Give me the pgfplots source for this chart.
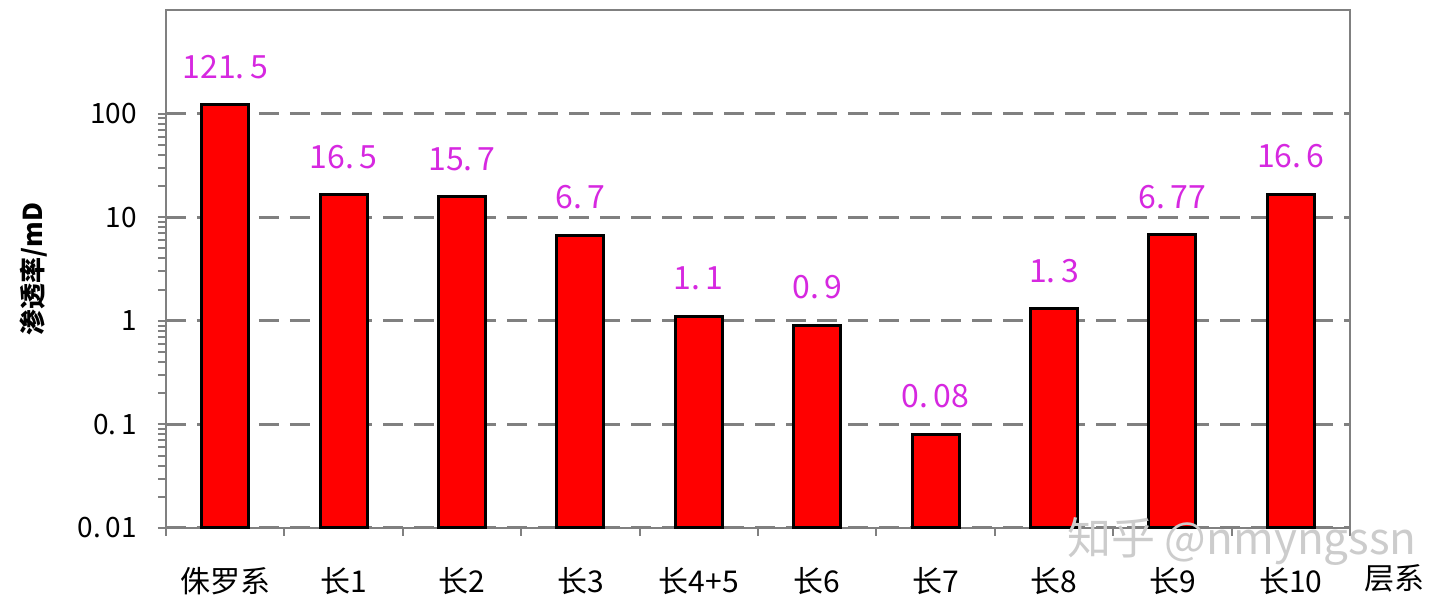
\documentclass[border=0pt]{standalone}
\usepackage{fontspec}
\setmainfont{Noto Sans CJK SC}
\usepackage{pgfplots}
\pgfplotsset{compat=1.18}
\definecolor{lbl}{RGB}{214,40,224}
\definecolor{ax}{RGB}{128,128,128}
\begin{document}
\begin{tikzpicture}
\begin{axis}[
    scale only axis,
    width=592pt, height=259pt,
    ymode=log,
    ymin=0.01, ymax=1000,
    xmin=-0.5, xmax=9.5,
    ytick={0.01,0.1,1,10,100},
    yticklabels={0.\,01, 0.\,1, 1, 10, 100},
    minor ytick={},
    xtick={0,...,9},
    xticklabels={侏罗系,长1,长2,长3,长4+5,长6,长7,长8,长9,长10},
    minor xtick={-0.5,0.5,...,9.5},
    major x tick style={draw=none},
    minor x tick style={draw=ax, line width=1pt},
    y tick style={draw=ax, line width=1pt},
    tick align=outside,
    major tick length=4pt, minor tick length=4pt,
    xtick pos=bottom, ytick pos=left,
    axis line style={draw=ax, line width=1pt},
    ymajorgrids=true,
    grid style={draw=ax, line width=1.5pt, dash pattern=on 10pt off 5.5pt},
    tick label style={font=\fontsize{14}{16}\selectfont},
    yticklabel style={xshift=-7pt},
    xticklabel style={font=\fontsize{15}{17}\selectfont, yshift=-12pt},
    xlabel={层系},
    xlabel style={at={(rel axis cs:1.038,0)}, anchor=center, yshift=-25pt, font=\fontsize{15}{17}\selectfont},
    ylabel={\bfseries 渗透率/mD},
    ylabel style={at={(rel axis cs:-0.112,0.5)}, anchor=center, font=\fontsize{13}{15}\selectfont},
    ybar, bar width=23.5pt,
    log origin=infty,
    point meta=explicit symbolic,
    nodes near coords,
    nodes near coords style={text=lbl, font=\fontsize{16}{18}\selectfont, yshift=9pt, anchor=south},
    clip=false,
]
\addplot[fill=red, draw=black, line width=1.5pt] coordinates {
    (0,121.5) [121.\,5]
    (1,16.5)  [16.\,5]
    (2,15.7)  [15.\,7]
    (3,6.7)   [6.\,7]
    (4,1.1)   [1.\,1]
    (5,0.9)   [0.\,9]
    (6,0.08)  [0.\,08]
    (7,1.3)   [1.\,3]
    (8,6.77)  [6.\,77]
    (9,16.6)  [16.\,6]
};
\end{axis}
\node[text=black!20, font=\fontsize{22}{24}\selectfont, anchor=west] at (447pt,-7pt) {知乎 @nmyngssn};
\useasboundingbox (-83pt,-40pt) rectangle (637pt,264pt);
\end{tikzpicture}
\end{document}
